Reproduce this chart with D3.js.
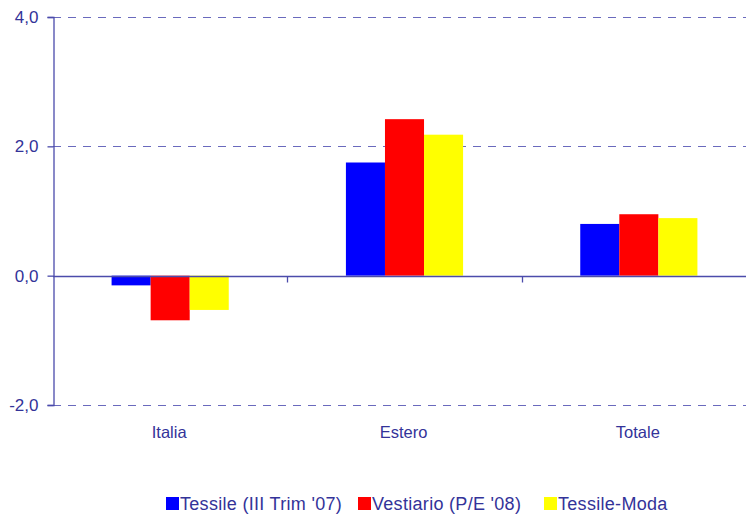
<!DOCTYPE html>
<html>
<head>
<meta charset="utf-8">
<script src="https://cdn.jsdelivr.net/npm/d3@7"></script>
<style>
  html, body { margin: 0; padding: 0; background: #fff; }
  svg { display: block; font-family: "Liberation Sans", Arial, sans-serif; }
</style>
</head>
<body>
<svg id="chart" width="746" height="515"></svg>
<script>
const categories = ["Italia", "Estero", "Totale"];
const seriesNames = ["Tessile (III Trim '07)", "Vestiario (P/E '08)", "Tessile-Moda"];
const tessile = [-0.15, 1.75, 0.80];
const vestiario = [-0.69, 2.42, 0.95];
const tessileModa = [-0.53, 2.18, 0.89];
const seriesColors = ["#0000ff", "#ff0000", "#ffff00"];
const yTicks = [-2, 0, 2, 4];

const seriesValues = [tessile, vestiario, tessileModa];
const svg = d3.select("#chart");
const textColor = "#333399";
const axisColor = "#4b4bab";

const plotLeft = 53, plotRight = 756, plotTop = 17, plotBottom = 405;
const y = d3.scaleLinear().domain([-2, 4]).range([plotBottom, plotTop]);
const x0 = d3.scaleBand().domain(categories).range([plotLeft, plotRight]).padding(0);
const x1 = d3.scaleBand().domain(d3.range(seriesNames.length))
  .range([0, x0.bandwidth()]).paddingInner(0).paddingOuter(1.5);

// gridlines (dashed) except zero
svg.append("g").selectAll("line")
  .data(yTicks.filter(d => d !== 0))
  .join("line")
  .attr("x1", plotLeft).attr("x2", 746)
  .attr("y1", d => Math.round(y(d)) + 0.5).attr("y2", d => Math.round(y(d)) + 0.5)
  .attr("stroke", "#6a6abd").attr("stroke-width", 1.2)
  .attr("stroke-dasharray", "8,7");

// bars
const groups = svg.append("g").selectAll("g")
  .data(categories)
  .join("g")
  .attr("transform", c => `translate(${x0(c)},0)`);

groups.selectAll("rect")
  .data((c, ci) => seriesValues.map((vals, si) => ({ si, v: vals[ci] })))
  .join("rect")
  .attr("x", d => x1(d.si))
  .attr("width", x1.bandwidth())
  .attr("y", d => y(Math.max(0, d.v)))
  .attr("height", d => Math.abs(y(d.v) - y(0)))
  .attr("fill", d => seriesColors[d.si]);

// y axis
const yAxis = d3.axisLeft(y).tickValues(yTicks).tickSize(6).tickPadding(9)
  .tickFormat(d => d3.format(".1f")(d).replace(".", ",").replace("−", "-"));
const yg = svg.append("g").attr("transform", `translate(${plotLeft + 0.5},0)`).call(yAxis);
yg.select(".domain").attr("stroke", axisColor).attr("stroke-width", 1.3);
yg.selectAll(".tick line").attr("stroke", axisColor).attr("stroke-width", 1.3);
yg.selectAll(".tick text").attr("fill", textColor).attr("font-size", 17)
  .attr("font-family", "Liberation Sans, Arial, sans-serif");

// x axis at zero
const zeroY = Math.round(y(0)) + 0.5;
svg.append("line").attr("x1", plotLeft).attr("x2", 746)
  .attr("y1", zeroY).attr("y2", zeroY)
  .attr("stroke", axisColor).attr("stroke-width", 1.3);
const boundaries = categories.slice(1).map(c => x0(c));
svg.append("g").selectAll("line").data(boundaries).join("line")
  .attr("x1", d => Math.round(d) + 0.5).attr("x2", d => Math.round(d) + 0.5)
  .attr("y1", zeroY).attr("y2", zeroY + 6)
  .attr("stroke", axisColor).attr("stroke-width", 1.3);

// category labels
svg.append("g").selectAll("text").data(categories).join("text")
  .attr("x", c => x0(c) + x0.bandwidth() / 2 - 1)
  .attr("y", 438)
  .attr("text-anchor", "middle")
  .attr("fill", textColor).attr("font-size", 16.5)
  .text(c => c);

// legend
const legendX = [166, 358, 544];
const lg = svg.append("g").selectAll("g").data(seriesNames).join("g")
  .attr("transform", (d, i) => `translate(${legendX[i]},497)`);
lg.append("rect").attr("width", 13).attr("height", 13)
  .attr("fill", (d, i) => seriesColors[i]);
lg.append("text").attr("x", 14).attr("y", 13)
  .attr("fill", textColor).attr("font-size", 18)
  .attr("letter-spacing", 0.3)
  .text(d => d);
</script>
</body>
</html>
